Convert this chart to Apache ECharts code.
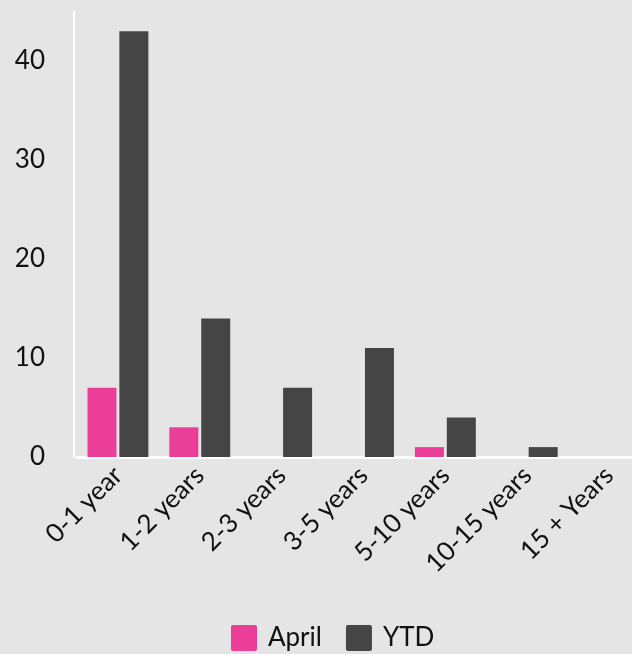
<!DOCTYPE html>
<html>
<head>
<meta charset="utf-8">
<script src="https://cdn.jsdelivr.net/npm/echarts@6/dist/echarts.min.js"></script>
<style>
html,body{margin:0;padding:0;background:#e5e5e5;overflow:hidden;width:632px;height:654px;}
#chart{width:660px;height:654px;}
</style>
</head>
<body>
<div id="chart"></div>
<script>
const categories = ['0-1 year', '1-2 years', '2-3 years', '3-5 years', '5-10 years', '10-15 years', '15 + Years'];
const aprilValues = [7, 3, 0, 0, 1, 0, 0];
const ytdValues = [43, 14, 7, 11, 4, 1, 0];
const yTicks = { min: 0, max: 45, interval: 10 };

const squareIcon = 'path://M2,0H24Q26,0 26,2V24Q26,26 24,26H2Q0,26 0,24V2Q0,0 2,0Z';

const chart = echarts.init(document.getElementById('chart'));
chart.setOption({
  backgroundColor: '#e5e5e5',
  textStyle: { fontFamily: 'Lato' },
  grid: { left: 77, top: 11.5, width: 573, bottom: 197, containLabel: false },
  legend: {
    top: 620,
    left: 226,
    itemWidth: 26,
    itemHeight: 26,
    itemGap: 24,
    icon: squareIcon,
    textStyle: { fontFamily: 'Lato', fontSize: 26, color: '#111', padding: [0, 0, 0, 6] },
    data: ['April', 'YTD']
  },
  xAxis: {
    type: 'category',
    data: categories,
    axisLine: { show: true, lineStyle: { color: '#ffffff', width: 3 } },
    axisTick: { show: false },
    axisLabel: { rotate: 45, fontFamily: 'Lato', fontSize: 26, color: '#111', margin: 14, interval: 0 }
  },
  yAxis: {
    type: 'value',
    min: yTicks.min,
    max: yTicks.max,
    interval: yTicks.interval,
    offset: 3,
    axisLine: { show: true, lineStyle: { color: '#ffffff', width: 2 } },
    axisTick: { show: false },
    splitLine: { show: false },
    axisLabel: { fontFamily: 'Lato', fontSize: 26, color: '#111', margin: 29,
      showMaxLabel: false }
  },
  series: [
    { name: 'April', type: 'bar', data: aprilValues, barWidth: 29, barGap: '10%', itemStyle: { color: '#ea3e98' } },
    { name: 'YTD', type: 'bar', data: ytdValues, barWidth: 29, barGap: '10%', itemStyle: { color: '#454545' } }
  ]
});
</script>
</body>
</html>
